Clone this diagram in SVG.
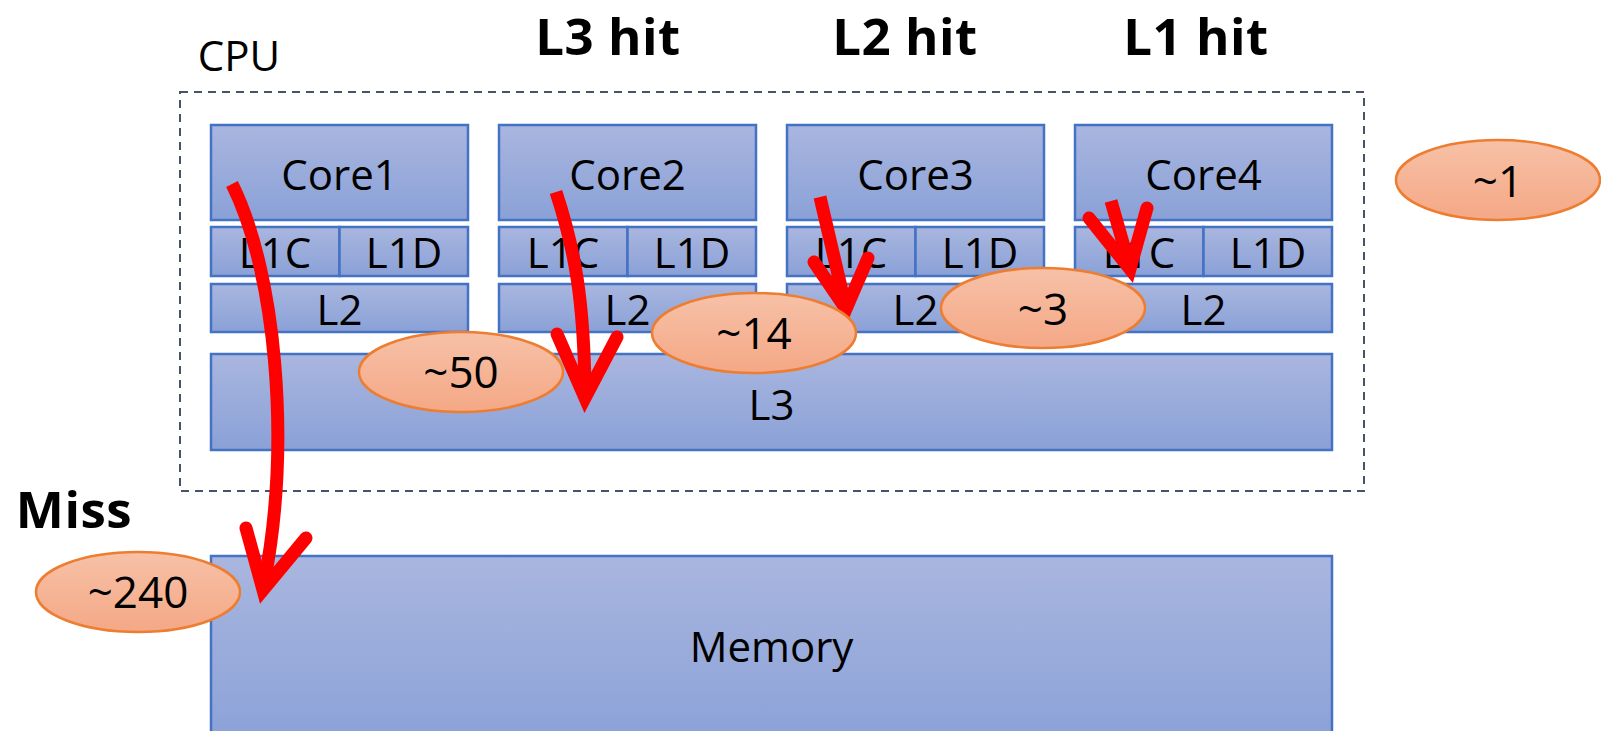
<svg xmlns="http://www.w3.org/2000/svg" width="1601" height="731" viewBox="0 0 1601 731">
<defs>
<linearGradient id="gb" x1="0" y1="0" x2="0" y2="1"><stop offset="0" stop-color="#a9b6df"/><stop offset="1" stop-color="#8aa1d7"/></linearGradient>
<linearGradient id="go" x1="0" y1="0" x2="0" y2="1"><stop offset="0" stop-color="#f7c1a7"/><stop offset="1" stop-color="#f4a886"/></linearGradient>
</defs>
<style>
.b{fill:url(#gb);stroke:#4472c4;stroke-width:2.5}
.o{fill:url(#go);stroke:#ed7d31;stroke-width:2.5}
.t{font-family:"Open Sans","Noto Sans",sans-serif;font-size:42px;fill:#000;text-anchor:middle}
.e{font-family:"Open Sans","Noto Sans",sans-serif;font-size:44px;fill:#000;text-anchor:middle}
.h{font-family:"Open Sans","Noto Sans",sans-serif;font-size:51px;font-weight:bold;fill:#000;text-anchor:middle;letter-spacing:0.5px}
.a{fill:none;stroke:#ff0000;stroke-width:13}
.ah{fill:none;stroke:#ff0000;stroke-width:13;stroke-linecap:round;stroke-linejoin:miter;stroke-miterlimit:10}
</style>
<g id="labels">
<text class="t" x="239" y="71">CPU</text>
<text class="h" x="608" y="55">L3 hit</text>
<text class="h" x="905" y="55">L2 hit</text>
<text class="h" x="1196" y="55">L1 hit</text>
<text class="h" x="74" y="528">Miss</text>
</g>
<g id="cpu"><rect x="180" y="92" width="1184" height="399" fill="none" stroke="#44546a" stroke-width="2" stroke-dasharray="8,6"/></g>
<g id="core1">
<rect class="b" x="211" y="125" width="257" height="95"/><text class="t" x="339.5" y="190">Core1</text>
<rect class="b" x="211" y="227" width="128.5" height="49"/><text class="t" x="275" y="268">L1C</text>
<rect class="b" x="339.5" y="227" width="128.5" height="49"/><text class="t" x="404" y="268">L1D</text>
<rect class="b" x="211" y="284" width="257" height="48"/><text class="t" x="339.5" y="325">L2</text>
</g>
<g id="core2">
<rect class="b" x="499" y="125" width="257" height="95"/><text class="t" x="627.5" y="190">Core2</text>
<rect class="b" x="499" y="227" width="128.5" height="49"/><text class="t" x="563" y="268">L1C</text>
<rect class="b" x="627.5" y="227" width="128.5" height="49"/><text class="t" x="692" y="268">L1D</text>
<rect class="b" x="499" y="284" width="257" height="48"/><text class="t" x="627.5" y="325">L2</text>
</g>
<g id="core3">
<rect class="b" x="787" y="125" width="257" height="95"/><text class="t" x="915.5" y="190">Core3</text>
<rect class="b" x="787" y="227" width="128.5" height="49"/><text class="t" x="851" y="268">L1C</text>
<rect class="b" x="915.5" y="227" width="128.5" height="49"/><text class="t" x="980" y="268">L1D</text>
<rect class="b" x="787" y="284" width="257" height="48"/><text class="t" x="915.5" y="325">L2</text>
</g>
<g id="core4">
<rect class="b" x="1075" y="125" width="257" height="95"/><text class="t" x="1203.5" y="190">Core4</text>
<rect class="b" x="1075" y="227" width="128.5" height="49"/><text class="t" x="1139" y="268">L1C</text>
<rect class="b" x="1203.5" y="227" width="128.5" height="49"/><text class="t" x="1268" y="268">L1D</text>
<rect class="b" x="1075" y="284" width="257" height="48"/><text class="t" x="1203.5" y="325">L2</text>
</g>
<g id="l3"><rect class="b" x="211" y="354" width="1121" height="96"/><text class="t" x="771.5" y="420">L3</text></g>
<g id="memory"><rect class="b" x="211" y="556" width="1121" height="190"/><text class="t" x="771.5" y="662">Memory</text></g>
<g id="connectors">
<path class="a" d="M232 184 C275 270 292 440 264 584"/>
<polyline class="ah" points="246,528 263,590 306,538"/>
<path class="a" d="M556 192 C575 250 584 300 585 392"/>
<polyline class="ah" points="557,334 585,398 617,337"/>
<path class="a" d="M820 197 L845 304"/>
<polyline class="ah" points="814,262 846,309 868,258"/>
<path class="a" d="M1111 201 L1129 264"/>
<polyline class="ah" points="1089,218 1130,269 1147,208"/>
</g>
<g id="e50"><ellipse class="o" cx="461" cy="372" rx="102" ry="40"/><text class="e" x="461" y="388">~50</text></g>
<g id="e14"><ellipse class="o" cx="754" cy="333" rx="102" ry="40"/><text class="e" x="754" y="349">~14</text></g>
<g id="e3"><ellipse class="o" cx="1043" cy="308" rx="102" ry="40"/><text class="e" x="1043" y="325">~3</text></g>
<g id="e1"><ellipse class="o" cx="1498" cy="180" rx="102" ry="40"/><text class="e" x="1498" y="197">~1</text></g>
<g id="e240"><ellipse class="o" cx="138" cy="592" rx="102" ry="40"/><text class="e" x="138" y="608">~240</text></g>
</svg>
